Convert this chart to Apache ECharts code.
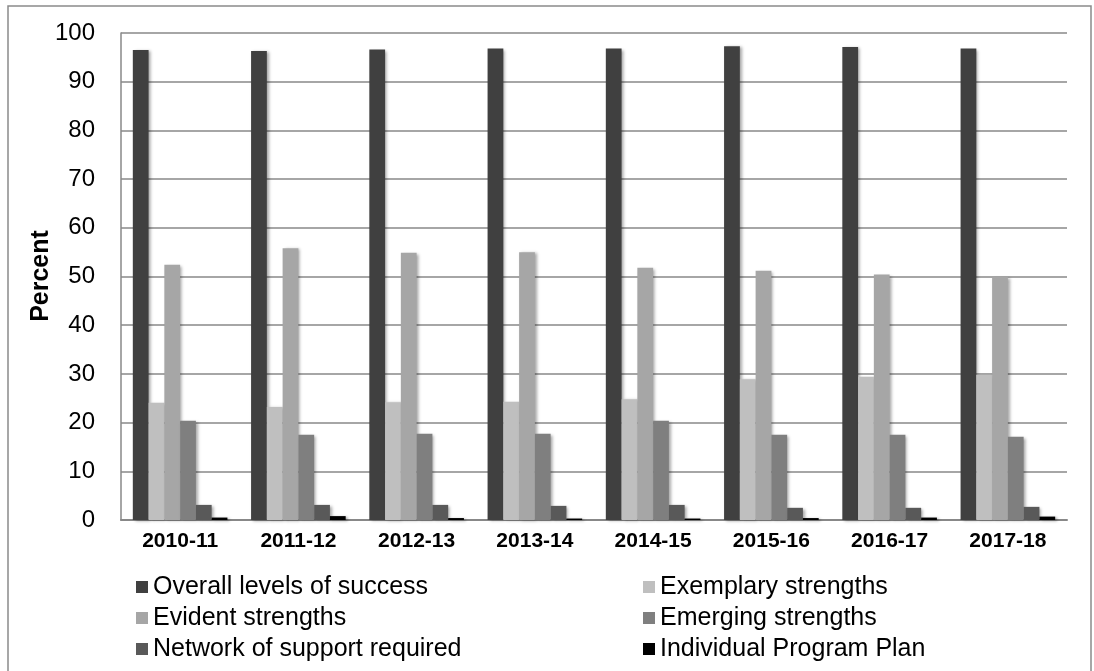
<!DOCTYPE html>
<html>
<head>
<meta charset="utf-8">
<script src="https://cdn.jsdelivr.net/npm/echarts@6/dist/echarts.min.js"></script>
<style>
html, body { margin: 0; padding: 0; background: #fff; }
#chartDiv { width: 1094px; height: 671px; }
</style>
</head>
<body>
<div id="chartDiv"></div>
<script>
// 初始化图表
let myChart = echarts.init(document.getElementById('chartDiv'));
window.onresize = myChart.resize;

// 数据
let years = ['2010-11', '2011-12', '2012-13', '2013-14', '2014-15', '2015-16', '2016-17', '2017-18'];
let seriesNames = ['Overall levels of success', 'Exemplary strengths', 'Evident strengths',
	'Emerging strengths', 'Network of support required', 'Individual Program Plan'];
let overall = [96.5, 96.3, 96.6, 96.8, 96.8, 97.3, 97.1, 96.8];
let exemplary = [24.1, 23.2, 24.2, 24.3, 24.8, 28.9, 29.4, 29.8];
let evident = [52.4, 55.8, 54.9, 55.0, 51.8, 51.2, 50.4, 50.0];
let emerging = [20.4, 17.5, 17.7, 17.7, 20.4, 17.5, 17.5, 17.1];
let network = [3.1, 3.1, 3.1, 2.9, 3.1, 2.5, 2.5, 2.7];
let ipp = [0.5, 0.8, 0.4, 0.3, 0.3, 0.4, 0.5, 0.7];
let yTicks = [0, 10, 20, 30, 40, 50, 60, 70, 80, 90, 100];
let yTitle = 'Percent';

let seriesData = [overall, exemplary, evident, emerging, network, ipp];
let colors = ['#404040', '#bfbfbf', '#a6a6a6', '#7f7f7f', '#595959', '#000000'];

let font = '"Liberation Sans", Arial, sans-serif';
let gridColor = '#888888';

let series = [];
seriesData.forEach(function (values, i) {
	series.push({
		name: seriesNames[i],
		type: 'bar',
		data: values,
		barGap: '0%',
		barCategoryGap: '20%',
		itemStyle: {
			color: colors[i],
			shadowBlur: 3,
			shadowColor: 'rgba(0, 0, 0, 0.35)',
			shadowOffsetX: 2,
			shadowOffsetY: 1
		}
	});
});

let legendText = {
	fontFamily: font,
	fontSize: 25,
	color: '#000',
	lineHeight: 26
};

let option = {
	backgroundColor: '#fff',
	animation: false,
	color: colors,
	grid: {
		left: 121,
		right: 27,
		top: 33,
		bottom: 151
	},
	legend: [
		{
			orient: 'vertical',
			left: 131,
			top: 569,
			itemWidth: 12,
			itemHeight: 12,
			itemGap: 5,
			icon: 'rect',
			textStyle: legendText,
			data: [seriesNames[0], seriesNames[2], seriesNames[4]]
		},
		{
			orient: 'vertical',
			left: 638,
			top: 569,
			itemWidth: 12,
			itemHeight: 12,
			itemGap: 5,
			icon: 'rect',
			textStyle: legendText,
			data: [seriesNames[1], seriesNames[3], seriesNames[5]]
		}
	],
	xAxis: {
		type: 'category',
		data: years,
		axisTick: { show: false },
		axisLine: { lineStyle: { color: gridColor, width: 2 } },
		axisLabel: {
			margin: 11,
			fontFamily: font,
			fontSize: 21,
			fontWeight: 'bold',
			color: '#000'
		}
	},
	yAxis: {
		type: 'value',
		min: yTicks[0],
		max: yTicks[yTicks.length - 1],
		interval: 10,
		axisLine: { show: true, lineStyle: { color: gridColor, width: 1.5 } },
		axisTick: { show: false },
		splitLine: { lineStyle: { color: gridColor, width: 1.5 } },
		axisLabel: {
			margin: 26,
			fontFamily: font,
			fontSize: 24,
			color: '#000'
		}
	},
	graphic: [
		{
			type: 'rect',
			shape: { x: 8, y: 6, width: 1083, height: 700 },
			style: { fill: 'none', stroke: '#8a8a8a', lineWidth: 1.5 },
			silent: true
		},
		{
			// 纵轴标题
			type: 'text',
			x: 41,
			y: 276,
			rotation: Math.PI / 2,
			style: {
				text: yTitle,
				fontFamily: font,
				fontSize: 25,
				fontWeight: 'bold',
				fill: '#000',
				align: 'center',
				verticalAlign: 'middle'
			},
			silent: true
		}
	],
	series: series
};

myChart.setOption(option);
</script>
</body>
</html>
